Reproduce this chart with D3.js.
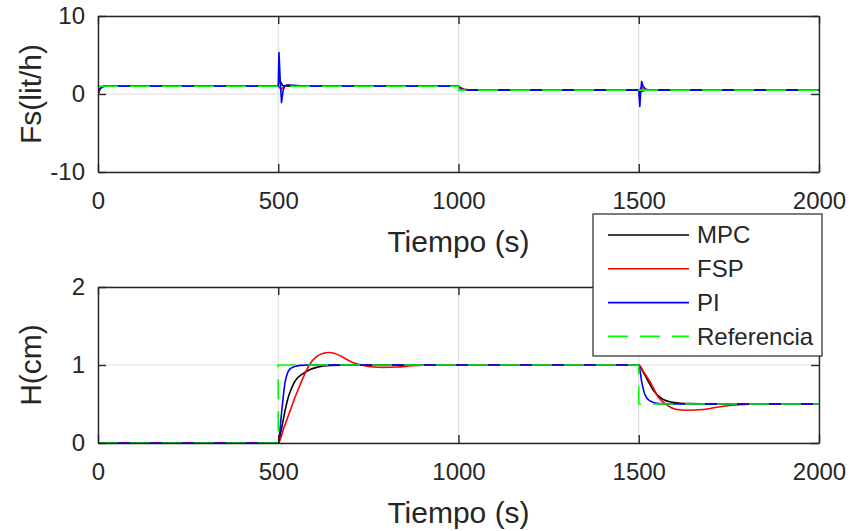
<!DOCTYPE html>
<html>
<head>
<meta charset="utf-8">
<script src="https://cdn.jsdelivr.net/npm/d3@7"></script>
<style>
  html, body { margin: 0; padding: 0; background: #fff; }
  svg { display: block; font-family: "Liberation Sans", Arial, Helvetica, sans-serif; }
</style>
</head>
<body>
<svg id="chart" width="851" height="531"></svg>
<script>
// tick values shared by both panels
const timeTicks = [0, 500, 1000, 1500, 2000];
const fsTicks = [-10, 0, 10];
const hTicks = [0, 1, 2];

const legendNames = ["MPC", "FSP", "PI", "Referencia"];

// top panel, Fs (lit/h) — [t, value]
const fsMPC = [[0, 0], [4, 0.55], [10, 0.9], [18, 1], [500, 1], [503, 1.9], [507, 1.5], [512, 1.1], [525, 1],
  [1000, 1], [1004, 0.8], [1012, 0.6], [1030, 0.52], [1060, 0.5], [1500, 0.5], [1503, 0.2], [1508, 0.35],
  [1518, 0.48], [1535, 0.5], [2000, 0.5]];
const fsFSP = [[0, 0], [5, 0.6], [12, 0.95], [20, 1], [500, 1], [504, 0.8], [508, 0.6], [514, 0.85], [522, 1.1],
  [540, 1.05], [560, 1], [1000, 1], [1005, 0.85], [1015, 0.6], [1035, 0.5], [1500, 0.5], [1504, 0.6],
  [1508, 0.9], [1514, 0.6], [1525, 0.5], [2000, 0.5]];
const fsPI = [[0, 0], [3, 0.35], [8, 0.85], [15, 1], [500, 1], [502, 5.3], [505, 2.2], [509, -1.1], [513, 0.3],
  [517, 1], [525, 1.15], [545, 1.1], [575, 1], [1000, 1], [1003, 0.85], [1010, 0.62], [1022, 0.52],
  [1040, 0.5], [1500, 0.5], [1503, -1.6], [1505, 0], [1508, 1.6], [1512, 1], [1520, 0.6], [1530, 0.5],
  [2000, 0.5]];
const fsRef = [[0, 1], [1000, 1], [1000, 0.5], [2000, 0.5]];

// bottom panel, H (cm)
const hMPC = [[0, 0], [500, 0], [507, 0.14], [514, 0.3], [521, 0.46], [528, 0.59], [537, 0.7], [546, 0.79],
  [569, 0.89], [590, 0.945], [607, 0.97], [644, 0.995], [700, 1], [1500, 1], [1510, 0.93], [1522, 0.83],
  [1540, 0.68], [1563, 0.57], [1596, 0.52], [1640, 0.505], [1700, 0.5], [2000, 0.5]];
const hFSP = [[0, 0], [500, 0], [516, 0.2], [532, 0.4], [546, 0.58], [560, 0.74], [573, 0.88], [586, 1],
  [607, 1.11], [625, 1.15], [640, 1.16], [655, 1.15], [671, 1.12], [690, 1.07], [708, 1.03], [736, 0.995],
  [765, 0.975], [791, 0.97], [830, 0.975], [870, 0.99], [920, 1], [1500, 1], [1515, 0.9], [1531, 0.79],
  [1554, 0.59], [1577, 0.49], [1605, 0.43], [1633, 0.42], [1679, 0.43], [1725, 0.465], [1781, 0.49],
  [1840, 0.5], [2000, 0.5]];
const hPI = [[0, 0], [500, 0], [509, 0.38], [519, 0.78], [526, 0.9], [533, 0.95], [545, 0.98], [560, 0.995],
  [590, 1], [1500, 1], [1508, 0.79], [1517, 0.62], [1531, 0.54], [1555, 0.505], [1600, 0.5], [2000, 0.5]];
const hRef = [[0, 0], [500, 0], [500, 1], [1500, 1], [1500, 0.5], [2000, 0.5]];

(function () {
  const svg = d3.select("#chart");
  const ink = "#262626";
  const colors = { MPC: "#000000", FSP: "#ff0000", PI: "#0000ff", Referencia: "#00ff00" };
  const left = 98;
  const right = 819;

  svg.append("rect").attr("width", 851).attr("height", 531).attr("fill", "#fff");

  function fmtTick(d) {
    return String(d);
  }

  function drawPanel(cfg) {
    const x = d3.scaleLinear().domain([0, 2000]).range([left, right]);
    const y = d3.scaleLinear().domain(cfg.yDomain).range([cfg.bottom, cfg.top]);
    const g = svg.append("g").attr("class", "panel");

    // grid
    g.append("g")
      .selectAll("line")
      .data(timeTicks)
      .join("line")
      .attr("x1", (d) => x(d))
      .attr("x2", (d) => x(d))
      .attr("y1", cfg.top)
      .attr("y2", cfg.bottom)
      .attr("stroke", "#dfdfdf")
      .attr("stroke-width", 1.2);
    g.append("g")
      .selectAll("line")
      .data(cfg.yTicks)
      .join("line")
      .attr("x1", left)
      .attr("x2", right)
      .attr("y1", (d) => y(d))
      .attr("y2", (d) => y(d))
      .attr("stroke", "#dfdfdf")
      .attr("stroke-width", 1.2);

    // data lines
    const clipId = `clip-${cfg.id}`;
    svg.append("clipPath")
      .attr("id", clipId)
      .append("rect")
      .attr("x", left)
      .attr("y", cfg.top)
      .attr("width", right - left)
      .attr("height", cfg.bottom - cfg.top);

    const lines = g.append("g").attr("clip-path", `url(#${clipId})`);
    cfg.series.forEach((s) => {
      const line = d3.line()
        .x((d) => x(d[0]))
        .y((d) => y(d[1]))
        .curve(s.smooth ? d3.curveMonotoneX : d3.curveLinear);
      lines.append("path")
        .datum(s.data)
        .attr("d", line)
        .attr("fill", "none")
        .attr("stroke", colors[s.name])
        .attr("stroke-width", 1.6)
        .attr("stroke-linejoin", "round")
        .attr("stroke-dasharray", s.name === "Referencia" ? "20,12" : null);
    });

    // axes, ticks inward on all four sides
    const axB = g.append("g")
      .attr("transform", `translate(0,${cfg.bottom})`)
      .call(d3.axisBottom(x).tickValues(timeTicks).tickFormat(fmtTick).tickSizeInner(-8).tickSizeOuter(0).tickPadding(20));
    const axT = g.append("g")
      .attr("transform", `translate(0,${cfg.top})`)
      .call(d3.axisTop(x).tickValues(timeTicks).tickFormat("").tickSizeInner(-8).tickSizeOuter(0));
    const axL = g.append("g")
      .attr("transform", `translate(${left},0)`)
      .call(d3.axisLeft(y).tickValues(cfg.yTicks).tickFormat(fmtTick).tickSizeInner(-8).tickSizeOuter(0).tickPadding(13));
    const axR = g.append("g")
      .attr("transform", `translate(${right},0)`)
      .call(d3.axisRight(y).tickValues(cfg.yTicks).tickFormat("").tickSizeInner(-8).tickSizeOuter(0));

    [axB, axT, axL, axR].forEach((ax) => {
      ax.attr("font-family", null).attr("font-size", 24);
      ax.selectAll("path.domain").attr("stroke", ink).attr("stroke-width", 1.4);
      ax.selectAll(".tick line").attr("stroke", ink).attr("stroke-width", 1.4);
      ax.selectAll(".tick text").attr("fill", ink);
    });

    // axis titles
    g.append("text")
      .attr("x", (left + right) / 2)
      .attr("y", cfg.bottom + 80)
      .attr("text-anchor", "middle")
      .attr("font-size", 30)
      .attr("fill", ink)
      .text("Tiempo (s)");
    g.append("text")
      .attr("transform", `translate(41,${(cfg.top + cfg.bottom) / 2}) rotate(-90)`)
      .attr("text-anchor", "middle")
      .attr("font-size", 30)
      .attr("fill", ink)
      .text(cfg.yLabel);
  }

  drawPanel({
    id: "fs",
    top: 16,
    bottom: 172,
    yDomain: [-10, 10],
    yTicks: fsTicks,
    yLabel: "Fs(lit/h)",
    series: [
      { name: "MPC", data: fsMPC },
      { name: "FSP", data: fsFSP },
      { name: "PI", data: fsPI },
      { name: "Referencia", data: fsRef }
    ]
  });

  drawPanel({
    id: "h",
    top: 287,
    bottom: 443,
    yDomain: [0, 2],
    yTicks: hTicks,
    yLabel: "H(cm)",
    series: [
      { name: "MPC", data: hMPC, smooth: true },
      { name: "FSP", data: hFSP, smooth: true },
      { name: "PI", data: hPI, smooth: true },
      { name: "Referencia", data: hRef }
    ]
  });

  // legend
  const legend = svg.append("g").attr("class", "legend");
  legend.append("rect")
    .attr("x", 593)
    .attr("y", 214)
    .attr("width", 229)
    .attr("height", 142)
    .attr("fill", "#fff")
    .attr("stroke", ink)
    .attr("stroke-width", 1.2);
  const rows = legend.selectAll("g.item")
    .data(legendNames)
    .join("g")
    .attr("class", "item")
    .attr("transform", (d, i) => `translate(0,${235 + i * 33.8})`);
  rows.append("line")
    .attr("x1", 608)
    .attr("x2", 689)
    .attr("stroke", (d) => colors[d])
    .attr("stroke-width", 1.6)
    .attr("stroke-dasharray", (d) => (d === "Referencia" ? "20,12" : null));
  rows.append("text")
    .attr("x", 697)
    .attr("dy", "0.35em")
    .attr("font-size", 24)
    .attr("fill", ink)
    .text((d) => d);
})();
</script>
</body>
</html>
